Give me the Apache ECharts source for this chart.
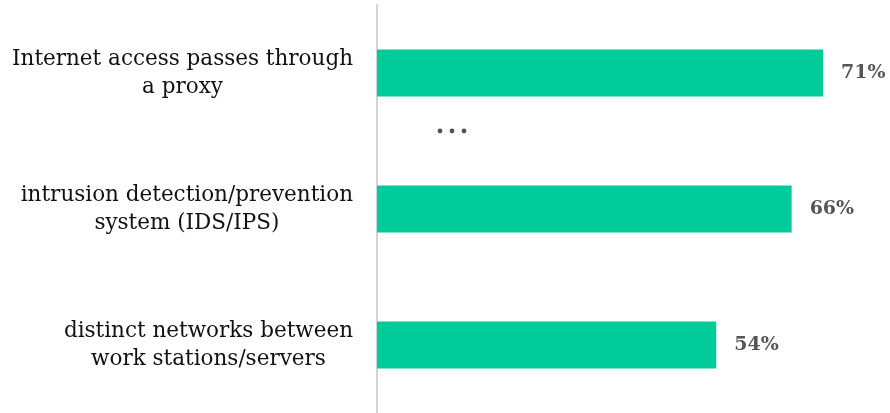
<!DOCTYPE html>
<html><head><meta charset="utf-8">
<script src="https://cdn.jsdelivr.net/npm/echarts@6/dist/echarts.min.js"></script>
<style>html,body{margin:0;padding:0;background:#fff}#c{width:890px;height:413px}</style>
</head><body><div id="c"></div>
<script>
const categories = ["Internet access passes through\na proxy", "intrusion detection/prevention\nsystem (IDS/IPS)", "distinct networks between\nwork stations/servers"];
const values = [71, 66, 54];
const chart = echarts.init(document.getElementById('c'));
chart.setOption({
  animation: false,
  grid: {left: 377, right: 10.4, top: 5, bottom: -2},
  xAxis: {type: 'value', min: 0, max: 80, show: false},
  yAxis: {
    type: 'category', data: categories, inverse: true,
    axisLine: {show: true, lineStyle: {color: '#d4d4d4', width: 2}},
    axisTick: {show: false},
    axisLabel: {align: 'right', margin: 24,
      formatter: v => v.split('\n').map(s => '{a|' + s + '}').join('\n'),
      rich: {a: {fontFamily: 'DejaVu Serif', fontSize: 21.5, color: '#111', lineHeight: 28, align: 'center'}}
    },
  },
  series: [{
    type: 'bar', data: values, barWidth: 47,
    itemStyle: {color: '#00CC99'},
    label: {show: true, position: 'right', distance: 18, formatter: '{c}%', fontFamily: 'DejaVu Serif', fontWeight: 'bold', fontSize: 19, color: '#555'}
  }],
  graphic: [
    {type: 'circle', shape: {cx: 440, cy: 131, r: 2.4}, style: {fill: '#555'}},
    {type: 'circle', shape: {cx: 452, cy: 131, r: 2.4}, style: {fill: '#555'}},
    {type: 'circle', shape: {cx: 464, cy: 131, r: 2.4}, style: {fill: '#555'}}
  ]
});
</script></body></html>
